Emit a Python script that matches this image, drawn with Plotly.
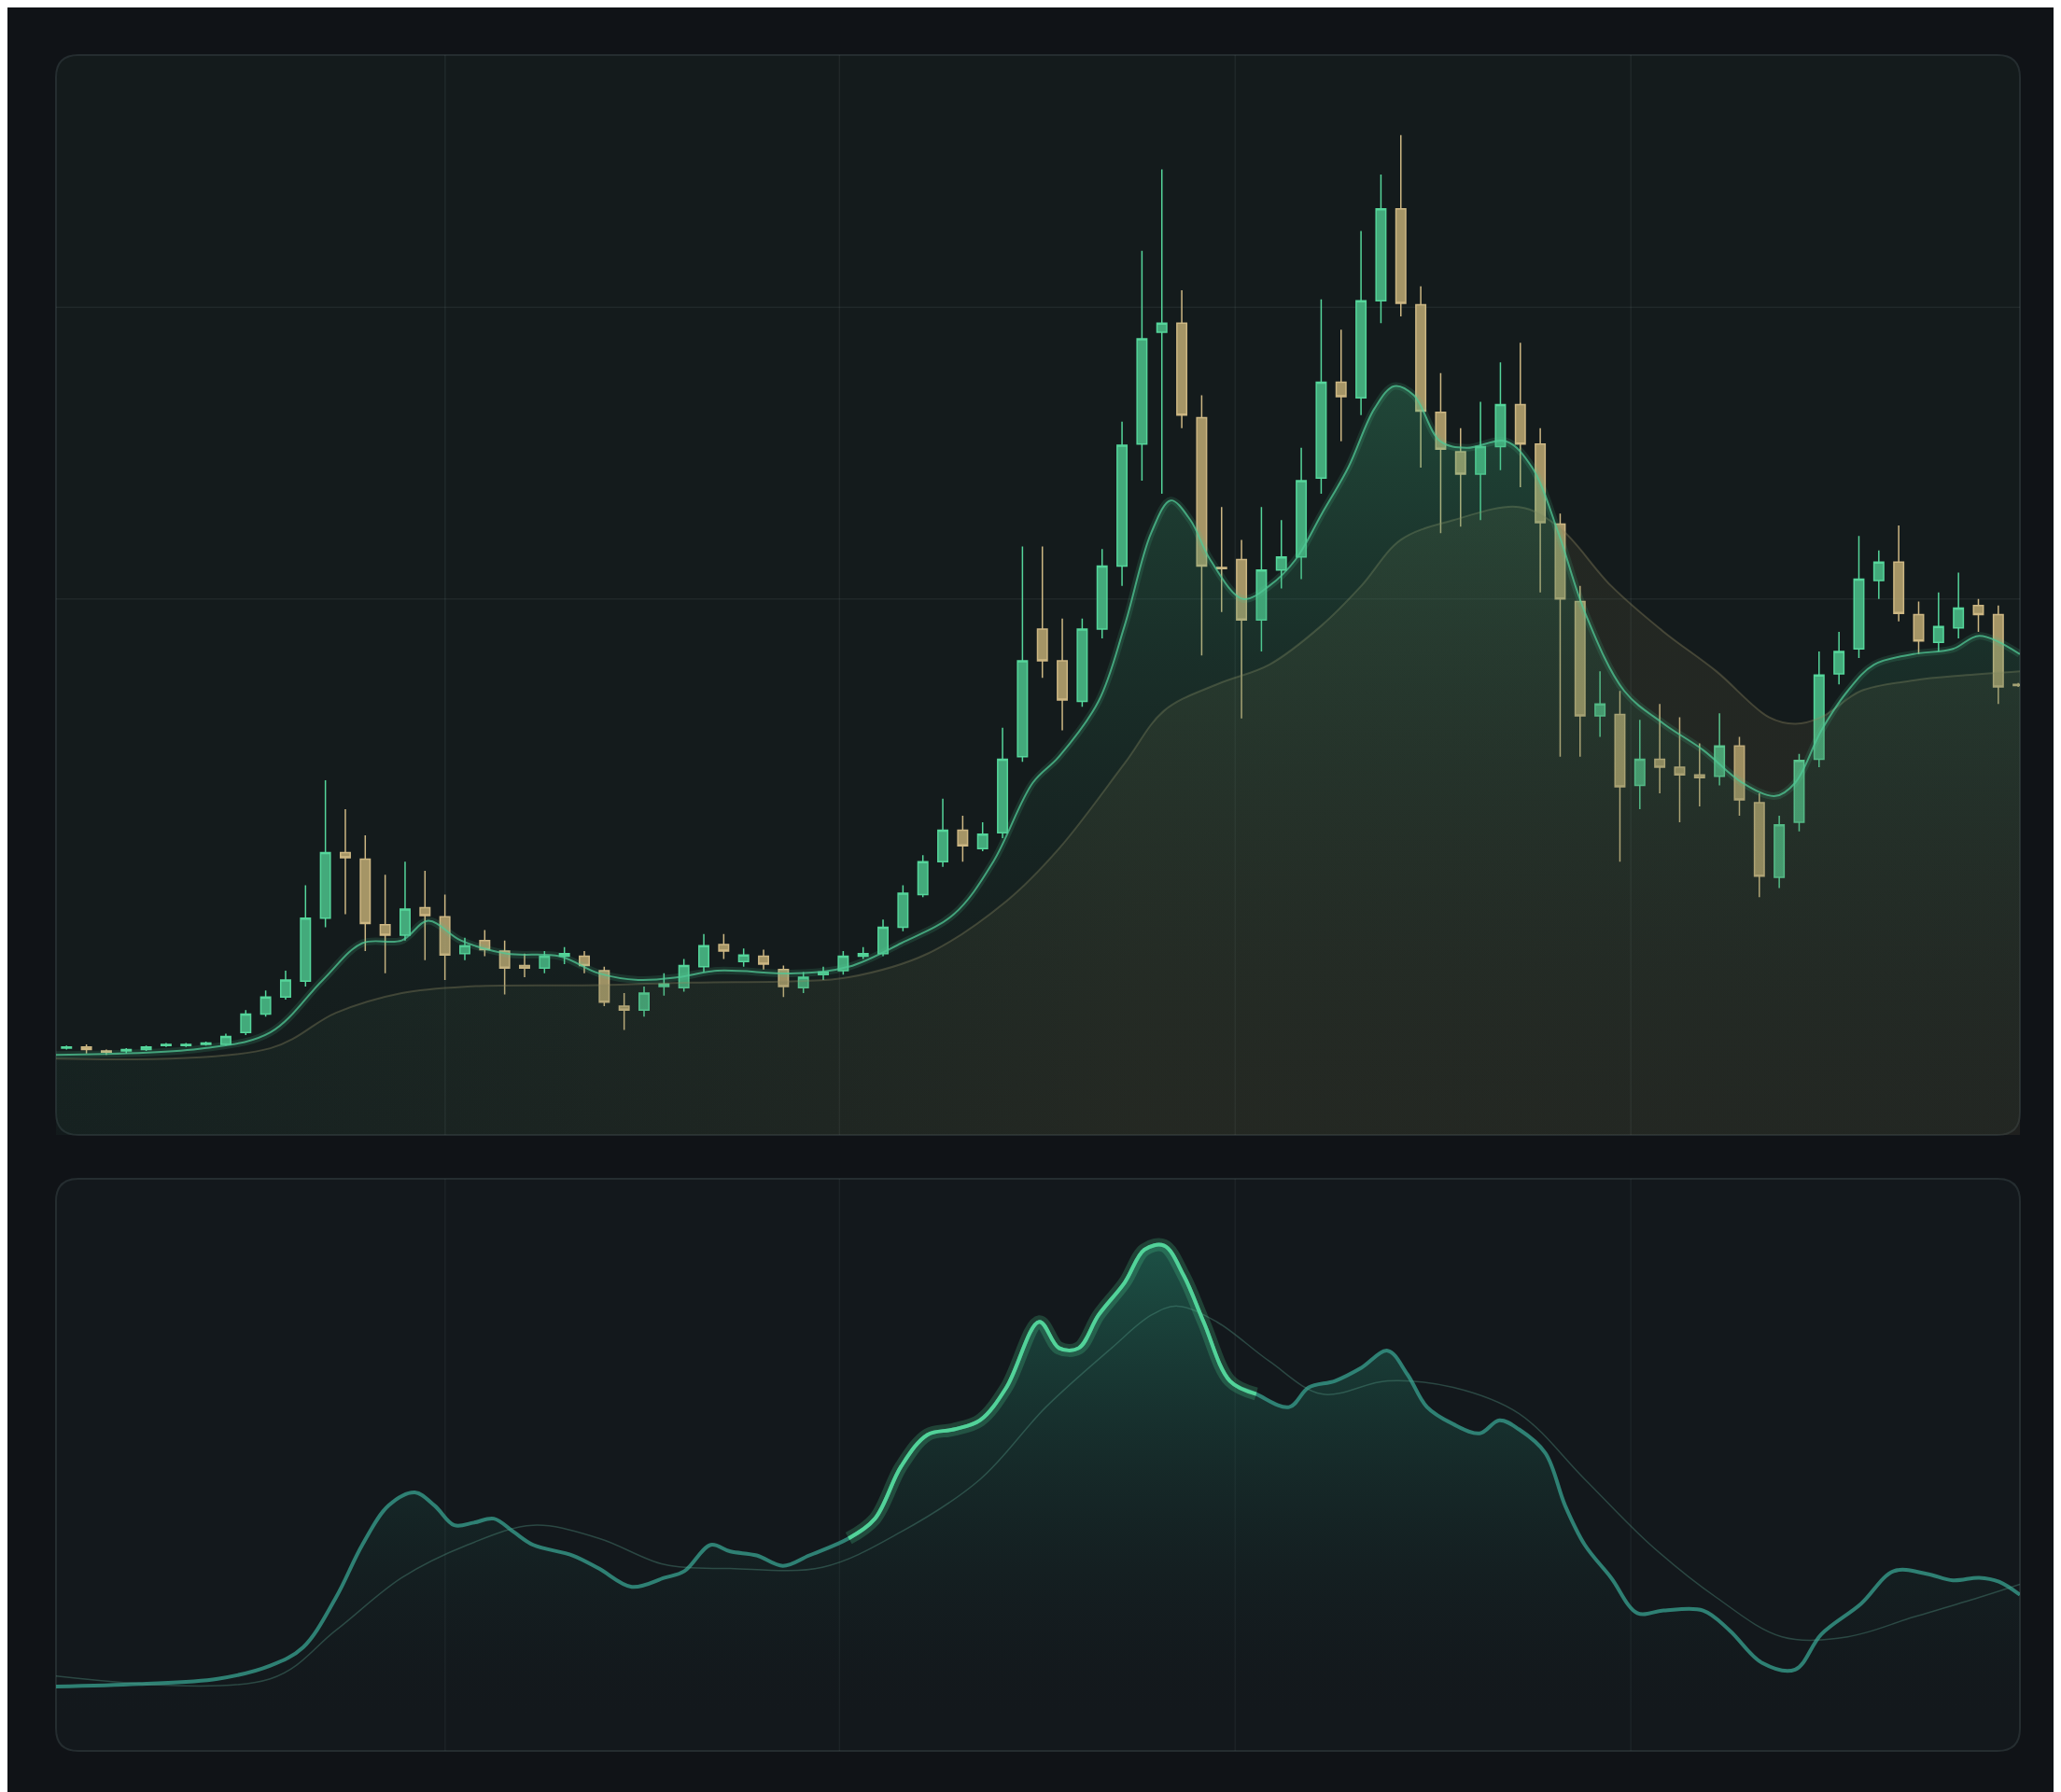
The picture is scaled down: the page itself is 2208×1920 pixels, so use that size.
import plotly.graph_objects as go

# ---------------- DATA ----------------
# candles: open, high, low, close (relative price units)
OPEN = [68,69,66,66,67,70,70,71,71,80,94,107,119,167,217,212,162,154,175,168,140,150,142,131,129,138,138,127,100,97,
        115,114,130,147,134,138,128,114,124,127,138,140,160,185,210,234,220,232,290,387,363,332,387,435,528,613,620,548,434,440,
        394,432,442,502,575,563,637,707,634,552,522,505,526,558,528,467,408,321,322,268,288,282,276,275,298,255,198,240,288,353,
        372,424,438,398,377,388,405,398,345]
HIGH = [70,71,67,68,70,72,72,73,79,97,112,127,192,272,250,230,200,210,203,185,152,158,150,140,142,145,142,130,110,115,
        125,136,155,155,144,143,131,126,130,142,145,166,192,215,258,245,240,312,450,450,395,395,448,545,675,737,645,565,480,455,
        480,470,525,638,615,690,733,763,648,582,540,560,590,605,540,475,420,355,340,318,330,320,300,323,305,262,245,292,370,385,
        458,447,466,408,415,430,410,405,346]
LOW = [67,64,63,64,66,69,69,70,70,78,92,105,115,160,170,142,125,150,135,120,135,138,109,122,125,132,125,100,82,92,
       108,111,126,136,130,128,107,110,120,124,136,138,157,183,206,210,218,228,286,350,310,328,380,420,500,490,540,367,400,319,
       370,418,425,490,530,550,620,625,510,460,465,470,508,495,415,290,290,305,210,250,262,240,252,268,245,183,190,233,282,345,
       365,410,393,368,370,380,385,330,343]
CLOSE = [69,67,65,67,69,71,71,72,77,94,107,120,167,217,213,163,154,174,169,139,146,143,129,129,138,140,131,103,97,110,
         117,131,146,142,139,132,115,122,126,138,140,160,186,210,234,222,231,288,363,363,333,387,435,527,608,620,550,435,433,394,
         432,442,500,575,564,637,707,635,553,524,505,526,558,528,468,410,321,330,267,288,282,276,274,298,257,199,238,287,352,370,
         425,438,399,378,389,403,398,343,344]

# moving averages (x in chart pixels of the reference, value in price units)
FAST_X = [37,150,200,240,270,300,320,345,380,420,450,480,510,540,600,640,680,720,750,780,800,830,850,870,885,900,915,940,960,
          980,1000,1020,1040,1055,1070,1090,1110,1140,1160,1180,1200,1230,1260,1290,1320,1345,1360,1380,1400,1420,1450,1480,1500,1531]
FAST_V = [63,68,80,120,148,150,165,150,140,138,125,120,122,127,125,130,148,170,210,270,290,332,390,460,485,470,440,410,420,
          440,475,510,555,572,565,530,525,530,510,460,400,340,315,295,270,260,270,310,340,360,368,372,382,368]
SLOW_X = [37,200,250,300,350,450,520,600,640,700,760,800,850,880,920,960,1000,1030,1060,1100,1150,1180,1220,1260,1300,1340,
          1360,1380,1410,1450,1490,1531]
SLOW_V = [60,68,95,110,115,116,118,119,122,140,180,220,285,325,345,360,390,420,455,470,480,465,420,385,355,320,315,320,340,
          348,352,355]

# lower panel indicator (x in reference pixels, value in indicator units)
IND_X = [37,100,160,200,225,250,270,290,310,325,340,355,370,385,400,430,450,475,500,515,535,550,570,590,610,640,660,680,700,
         720,740,760,785,800,815,830,850,865,880,895,910,930,950,975,990,1010,1030,1050,1065,1080,1100,1120,1135,1150,1170,1185,
         1200,1220,1240,1260,1290,1310,1335,1360,1380,1410,1435,1460,1480,1500,1515,1531]
IND_V = [22,24,28,38,52,90,130,160,170,160,145,147,150,140,130,122,112,98,105,110,130,125,122,114,122,135,150,190,214,
         218,225,250,300,280,280,305,330,355,358,335,300,255,245,235,250,255,265,278,260,235,222,215,225,218,200,160,
         130,105,78,80,80,65,40,35,62,85,110,108,103,105,102,92]
IND2_X = [37,200,250,300,350,400,450,500,550,620,680,740,790,840,870,890,920,960,1000,1050,1100,1150,1200,1250,1300,1350,
          1400,1450,1500,1531]
IND2_V = [30,28,65,105,130,145,135,115,112,113,140,180,235,280,305,312,300,270,245,255,250,230,180,130,90,60,60,75,90,100]

GRID_PX = [333, 633, 934, 1235]


def px2i(x):
    return (x - 45) / 15.15


N = len(OPEN)
IDX = list(range(N))
XR = [px2i(37), px2i(1531)]

fig = go.Figure()

fig.add_trace(go.Scatter(x=[px2i(v) for v in SLOW_X], y=SLOW_V, mode="lines", line=dict(color="rgba(150,140,100,0.35)", width=2, shape="spline"),
                         fill="tozeroy", fillgradient=dict(type="horizontal", colorscale=[[0, "rgba(40,90,70,0.10)"], [0.55, "rgba(120,110,70,0.16)"], [1, "rgba(110,100,70,0.16)"]]),
                         hoverinfo="skip", xaxis="x", yaxis="y"))
fig.add_trace(go.Scatter(x=[px2i(v) for v in FAST_X], y=FAST_V, mode="lines", line=dict(color="rgba(80,200,150,0.15)", width=8, shape="spline"),
                         fill="tozeroy", fillgradient=dict(type="vertical", colorscale=[[0, "rgba(30,60,50,0.0)"], [1, "rgba(60,170,120,0.30)"]]),
                         hoverinfo="skip", xaxis="x", yaxis="y"))
fig.add_trace(go.Scatter(x=[px2i(v) for v in FAST_X], y=FAST_V, mode="lines", line=dict(color="rgba(80,200,150,0.75)", width=2, shape="spline"),
                         hoverinfo="skip", xaxis="x", yaxis="y"))

fig.add_trace(go.Candlestick(x=IDX, open=OPEN, high=HIGH, low=LOW, close=CLOSE, whiskerwidth=0,
                             increasing=dict(line=dict(color="#55d69b", width=1.5), fillcolor="rgba(75,195,140,0.85)"),
                             decreasing=dict(line=dict(color="#cdb783", width=1.5), fillcolor="rgba(190,170,115,0.85)"),
                             xaxis="x", yaxis="y", hoverinfo="skip"))

fig.add_trace(go.Scatter(x=[px2i(v) for v in IND_X], y=IND_V, mode="lines", line=dict(color="rgba(50,140,125,0.9)", width=4, shape="spline"),
                         fill="tozeroy", fillgradient=dict(type="vertical", colorscale=[[0, "rgba(20,40,40,0.0)"], [1, "rgba(40,150,120,0.45)"]]),
                         hoverinfo="skip", xaxis="x2", yaxis="y2"))
fig.add_trace(go.Scatter(x=[px2i(v) for v in IND2_X], y=IND2_V, mode="lines", line=dict(color="rgba(90,160,140,0.35)", width=1.5, shape="spline"),
                         hoverinfo="skip", xaxis="x2", yaxis="y2"))
seg = [(x, v) for x, v in zip(IND_X, IND_V) if 640 <= x <= 950]
fig.add_trace(go.Scatter(x=[px2i(a) for a, _ in seg], y=[b for _, b in seg], mode="lines", line=dict(color="rgba(80,220,150,0.22)", width=14, shape="spline"),
                         hoverinfo="skip", xaxis="x2", yaxis="y2"))
fig.add_trace(go.Scatter(x=[px2i(a) for a, _ in seg], y=[b for _, b in seg], mode="lines", line=dict(color="rgba(85,217,156,0.9)", width=4, shape="spline"),
                         hoverinfo="skip", xaxis="x2", yaxis="y2"))

W, H = 2208, 1920
TOP = (52, 51, 2156, 1208)
BOT = (52, 1255, 2156, 1868)


def rr(box, r=24):
    x0, y0, x1, y1 = box

    def P(x, y):
        return f"{x / W:.5f},{1 - y / H:.5f}"
    return (f"M{P(x0+r,y0)} L{P(x1-r,y0)} Q{P(x1,y0)} {P(x1,y0+r)} L{P(x1,y1-r)} Q{P(x1,y1)} {P(x1-r,y1)} "
            f"L{P(x0+r,y1)} Q{P(x0,y1)} {P(x0,y1-r)} L{P(x0,y0+r)} Q{P(x0,y0)} {P(x0+r,y0)} Z")


shapes = []
for box, fc in [(TOP, "#141b1c"), (BOT, "#13181c")]:
    shapes.append(dict(type="path", xref="paper", yref="paper", path=rr(box), fillcolor=fc, line=dict(color="#252d30", width=2), layer="below"))
for g in GRID_PX:
    xi = px2i(g)
    shapes.append(dict(type="line", xref="x", yref="y domain", x0=xi, x1=xi, y0=0, y1=1, line=dict(color="rgba(120,140,140,0.12)", width=1.5), layer="below"))
    shapes.append(dict(type="line", xref="x2", yref="y2 domain", x0=xi, x1=xi, y0=0, y1=1, line=dict(color="rgba(120,140,140,0.10)", width=1.5), layer="below"))
for p in [632, 410]:
    shapes.append(dict(type="line", xref="x domain", yref="y", x0=0, x1=1, y0=p, y1=p, line=dict(color="rgba(120,140,140,0.12)", width=1.5), layer="below"))

ax = dict(showgrid=False, zeroline=False, showticklabels=False, ticks="", fixedrange=True)
fig.update_layout(
    width=W, height=H, margin=dict(l=0, r=0, t=0, b=0),
    paper_bgcolor="#101317", plot_bgcolor="rgba(0,0,0,0)", showlegend=False,
    xaxis=dict(**ax, domain=[TOP[0]/W, TOP[2]/W], range=XR, rangeslider=dict(visible=False)),
    yaxis=dict(**ax, domain=[1-TOP[3]/H, 1-TOP[1]/H], range=[2, 824]),
    xaxis2=dict(**ax, domain=[BOT[0]/W, BOT[2]/W], range=XR, anchor="y2"),
    yaxis2=dict(**ax, domain=[1-BOT[3]/H, 1-BOT[1]/H], range=[-27, 409], anchor="x2"),
    shapes=shapes,
)
fig.write_html("out.html")
